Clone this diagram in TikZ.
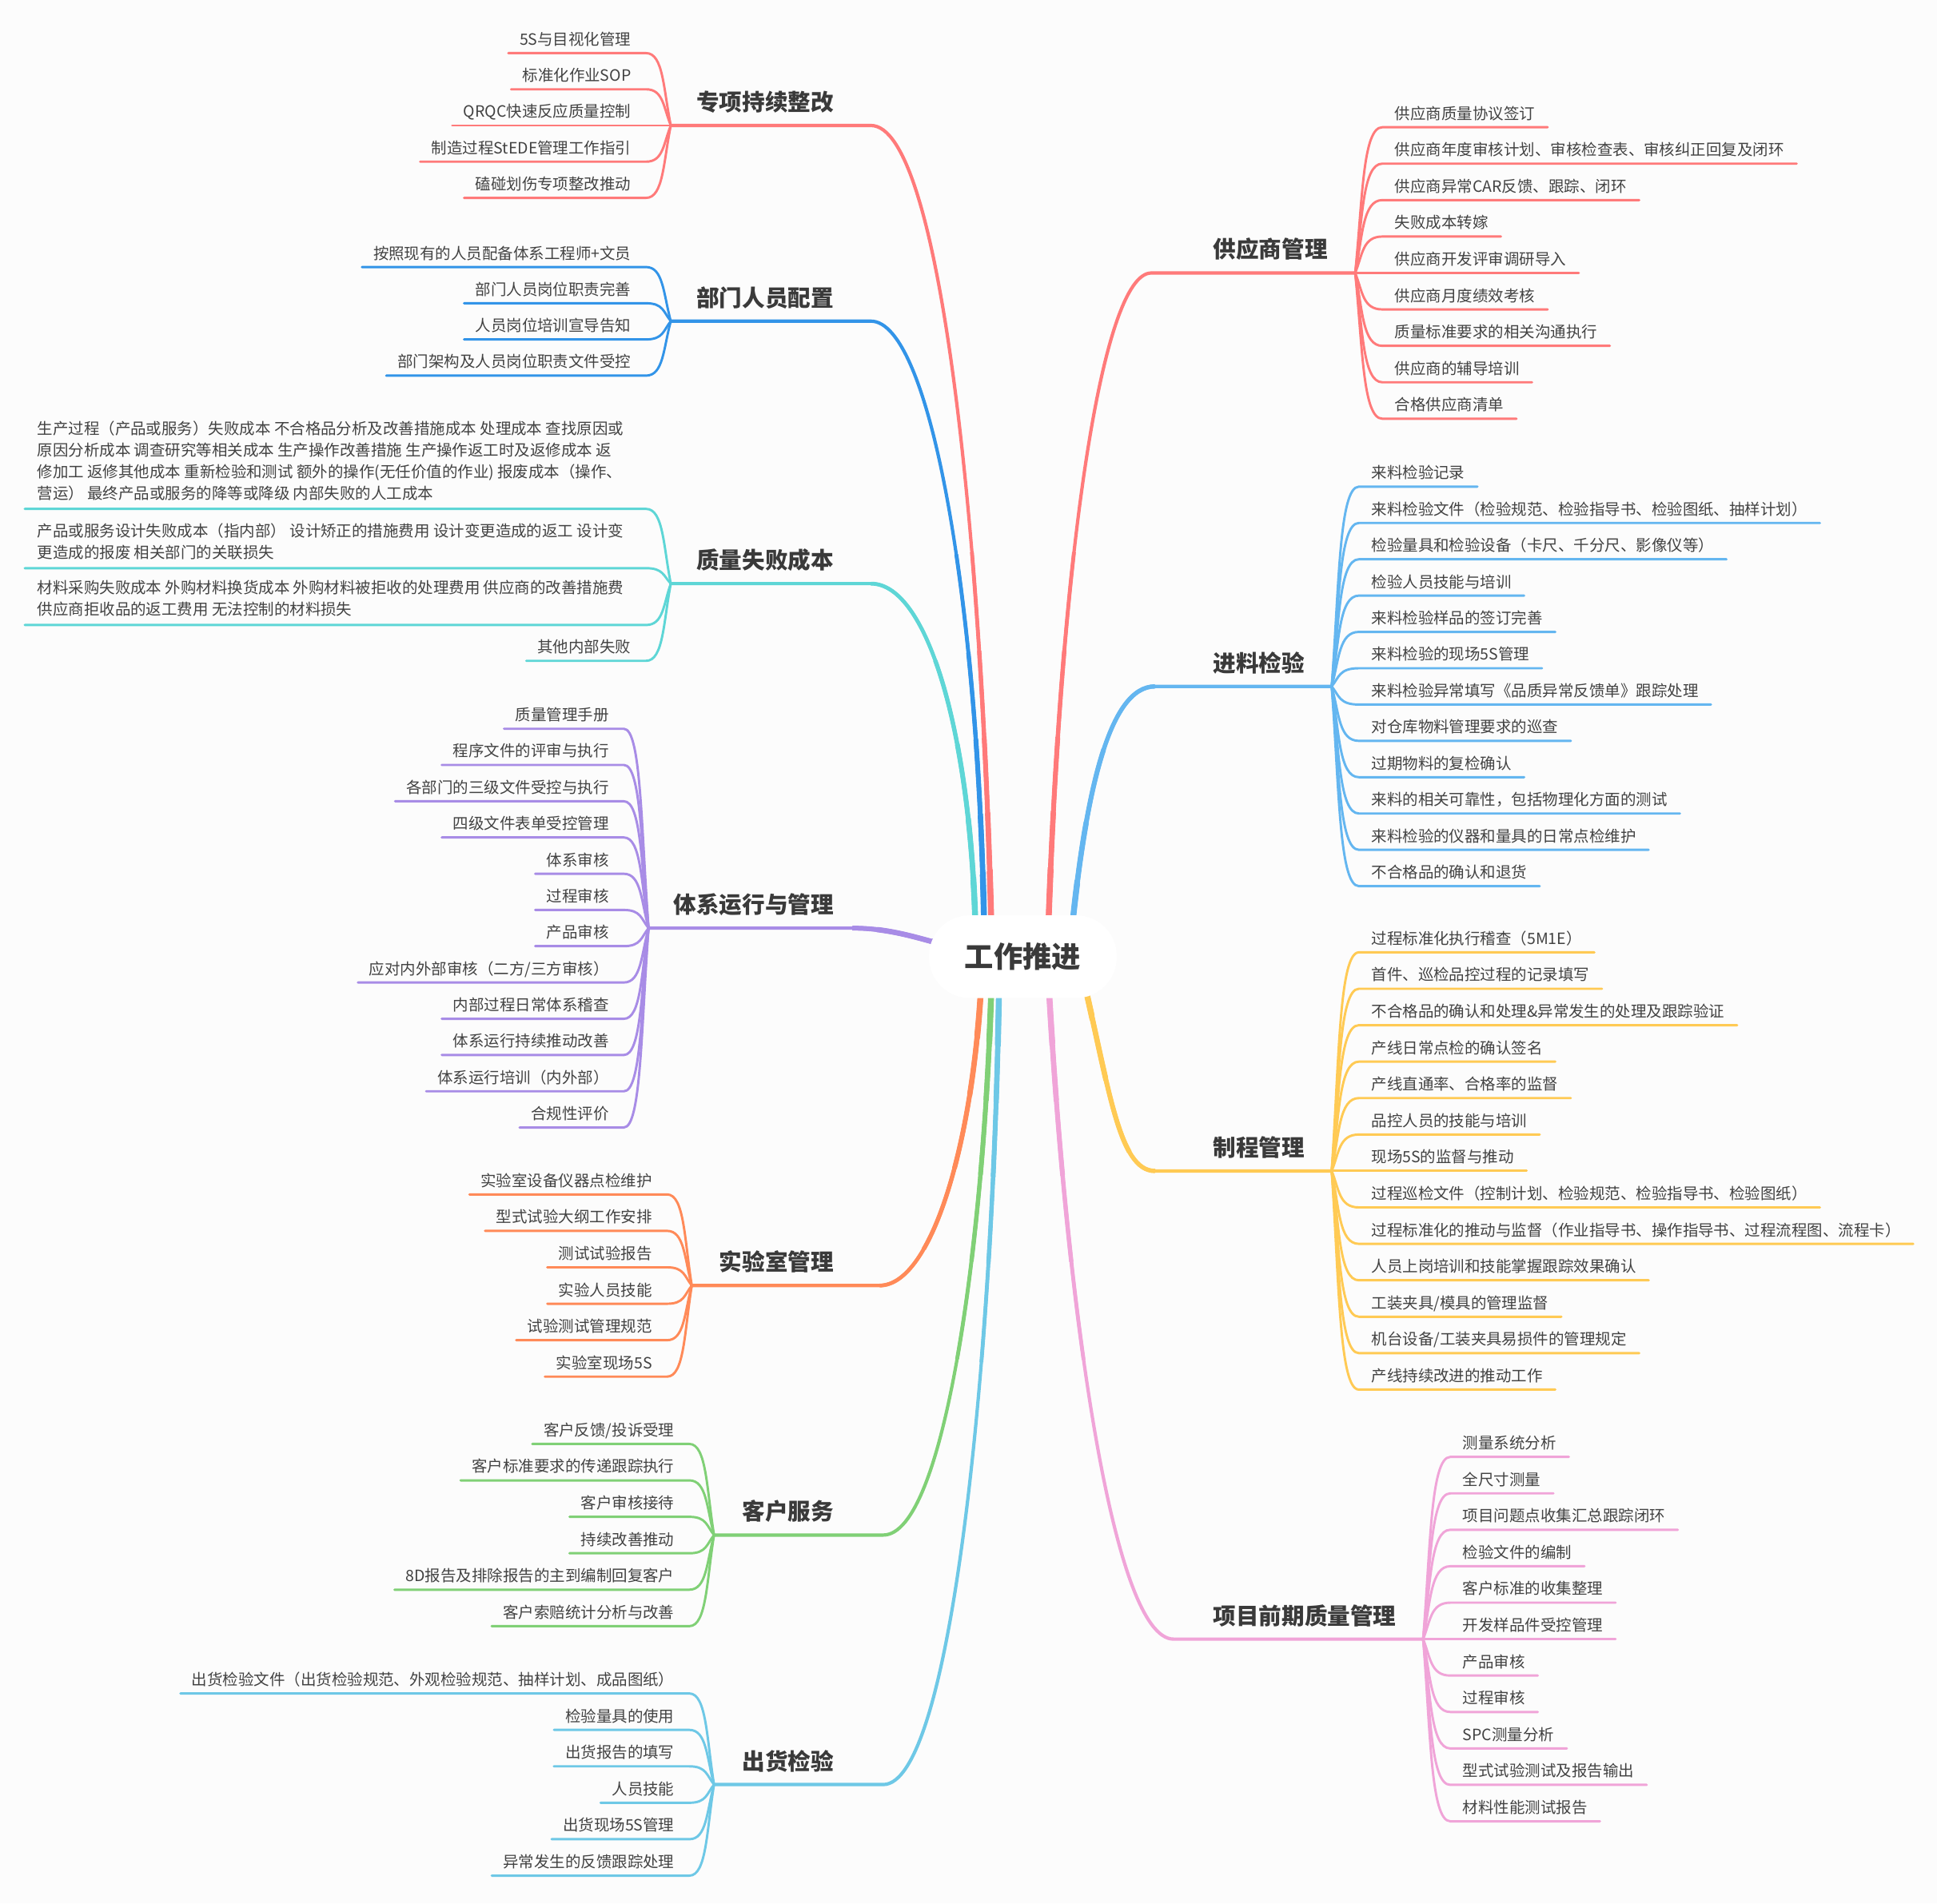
\documentclass[tikz,border=0pt]{standalone}
\usepackage{fontspec}
\setmainfont{Noto Sans CJK SC}
\usetikzlibrary{calc}
\definecolor{bgc}{RGB}{252,252,252}
\definecolor{txt}{RGB}{66,66,66}
\definecolor{ttl}{RGB}{58,58,58}
\definecolor{cRed}{RGB}{255,122,122}
\definecolor{cBlue}{RGB}{50,148,232}
\definecolor{cTeal}{RGB}{94,214,214}
\definecolor{cPurple}{RGB}{168,140,230}
\definecolor{cOrange}{RGB}{255,138,88}
\definecolor{cGreen}{RGB}{128,208,118}
\definecolor{cSky}{RGB}{110,200,230}
\definecolor{cAzure}{RGB}{100,182,240}
\definecolor{cYellow}{RGB}{255,202,84}
\definecolor{cPink}{RGB}{240,164,216}
\pgfdeclarelayer{bg}
\pgfdeclarelayer{lines}
\pgfsetlayers{bg,lines,main}
\tikzset{
  leaf/.style={inner sep=0pt, text=txt, font=\fontsize{12.6}{15}\selectfont},
  leafm/.style={inner sep=0pt, text=txt, align=left, font=\fontsize{12.6}{17.4}\selectfont},
  btitle/.style={inner sep=0pt, text=ttl, font=\fontsize{18.5}{22}\selectfont\bfseries},
  rootnode/.style={rectangle, rounded corners=33pt, minimum width=152pt, minimum height=67pt, fill=white, inner sep=0pt, text=ttl, font=\fontsize{23.5}{28}\selectfont\bfseries},
  lk/.style={draw=#1, line width=1.9pt, line cap=round},
  mk/.style={draw=#1, line width=2.7pt, line cap=round},
}
% right-side leaf: name, fork, fork x, underline y, colour, text
\newcommand\leafR[6]{%
  \coordinate (#1a) at (#3+22,#4);
  \node[leaf,anchor=base west] (#1) at (#3+32,#4-6.5) {#6};
  \begin{pgfonlayer}{lines}
  \draw[lk=#5] (#2) .. controls ($(#2)!.5!(#2|-#1a)+(6,0)$) and ($(#2|-#1a)+(6,0)$) .. (#1a) -- ($(#1a-|#1.east)+(10,0)$);
  \end{pgfonlayer}}
% left-side leaf
\newcommand\leafL[6]{%
  \coordinate (#1a) at (#3-20,#4);
  \node[leaf,anchor=base east] (#1) at (#3-32,#4-6.5) {#6};
  \begin{pgfonlayer}{lines}
  \draw[lk=#5] (#2) .. controls ($(#2)!.5!(#2|-#1a)+(-6,0)$) and ($(#2|-#1a)+(-6,0)$) .. (#1a) -- ($(#1a-|#1.west)+(-9,0)$);
  \end{pgfonlayer}}
% tapered piece of a main branch: colour, width, radius, start, c1, c2, end
\newcommand\taper[7]{%
  \begin{scope}\clip (root.center) circle (#3);
  \draw[draw=#1, line width=#2] (#4) .. controls (#5) and (#6) .. (#7);\end{scope}}
% main branch: colour, start, c1, c2, curve end, fork
\newcommand\mainbr[6]{%
  \begin{pgfonlayer}{lines}
  \draw[mk=#1] (#2) .. controls (#3) and (#4) .. (#5) -- (#6);
  \taper{#1}{3.1pt}{330}{#2}{#3}{#4}{#5}
  \taper{#1}{3.5pt}{250}{#2}{#3}{#4}{#5}
  \taper{#1}{3.9pt}{180}{#2}{#3}{#4}{#5}
  \taper{#1}{4.3pt}{120}{#2}{#3}{#4}{#5}
  \taper{#1}{4.8pt}{75}{#2}{#3}{#4}{#5}
  \end{pgfonlayer}}
\begin{document}
\begin{tikzpicture}[x=1pt,y=-1pt]
\begin{pgfonlayer}{bg}\fill[bgc] (0,0) rectangle (1568,1541);\end{pgfonlayer}
\useasboundingbox (0,0) rectangle (1568,1541);
\node[rootnode] (root) at (828,774.5) {工作推进};
\coordinate (rA) at (803,770);
\coordinate (rB) at (797,770);
\coordinate (rC) at (790,770);
\coordinate (rD) at (790,772);
\coordinate (rE) at (795,780);
\coordinate (rF) at (803,780);
\coordinate (rG) at (809,780);
\coordinate (rH) at (848,770);
\coordinate (rI) at (866,770);
\coordinate (rJ) at (874,780);
\coordinate (rK) at (848,780);
% ---------- 专项持续整改
\coordinate (aA) at (705,101.6); \coordinate (aF) at (543,101.6);
\mainbr{cRed}{rA}{795,420}{760,101.6}{aA}{aF}
\node[btitle,anchor=base east] (aT) at (675,89.6) {专项持续整改};
\leafL{a1}{aF}{543}{43}{cRed}{5S与目视化管理}
\leafL{a2}{aF}{543}{72.3}{cRed}{标准化作业SOP}
\leafL{a3}{aF}{543}{101.6}{cRed}{QRQC快速反应质量控制}
\leafL{a4}{aF}{543}{130.9}{cRed}{制造过程StEDE管理工作指引}
\leafL{a5}{aF}{543}{160.2}{cRed}{磕碰划伤专项整改推动}
% ---------- 部门人员配置
\coordinate (bA) at (705,260); \coordinate (bF) at (543,260);
\mainbr{cBlue}{rB}{793,480}{752,260}{bA}{bF}
\node[btitle,anchor=base east] (bT) at (675,248) {部门人员配置};
\leafL{b1}{bF}{543}{216.2}{cBlue}{按照现有的人员配备体系工程师+文员}
\leafL{b2}{bF}{543}{245.5}{cBlue}{部门人员岗位职责完善}
\leafL{b3}{bF}{543}{274.8}{cBlue}{人员岗位培训宣导告知}
\leafL{b4}{bF}{543}{304.1}{cBlue}{部门架构及人员岗位职责文件受控}
% ---------- 质量失败成本
\coordinate (cA) at (705,472.5); \coordinate (cF) at (543,472.5);
\mainbr{cTeal}{rC}{788,600}{752,472.5}{cA}{cF}
\node[btitle,anchor=base east] (cT) at (675,460.5) {质量失败成本};
\coordinate (c1a) at (523,412);
\node[leafm,anchor=base west] (c1) at (30,404) {生产过程（产品或服务）失败成本 不合格品分析及改善措施成本 处理成本 查找原因或\\原因分析成本 调查研究等相关成本 生产操作改善措施 生产操作返工时及返修成本 返\\修加工 返修其他成本 重新检验和测试 额外的操作(无任价值的作业) 报废成本（操作、\\营运） 最终产品或服务的降等或降级 内部失败的人工成本};
\coordinate (c2a) at (523,460);
\node[leafm,anchor=base west] (c2) at (30,452) {产品或服务设计失败成本（指内部） 设计矫正的措施费用 设计变更造成的返工 设计变\\更造成的报废 相关部门的关联损失};
\coordinate (c3a) at (523,506);
\node[leafm,anchor=base west] (c3) at (30,498) {材料采购失败成本 外购材料换货成本 外购材料被拒收的处理费用 供应商的改善措施费\\供应商拒收品的返工费用 无法控制的材料损失};
\begin{pgfonlayer}{lines}
\draw[lk=cTeal] (cF) .. controls ($(cF)!.5!(cF|-c1a)+(-6,0)$) and ($(cF|-c1a)+(-6,0)$) .. (c1a) -- ($(c1a-|c1.west)+(-10,0)$);
\draw[lk=cTeal] (cF) .. controls ($(cF)!.5!(cF|-c2a)+(-6,0)$) and ($(cF|-c2a)+(-6,0)$) .. (c2a) -- ($(c2a-|c2.west)+(-10,0)$);
\draw[lk=cTeal] (cF) .. controls ($(cF)!.5!(cF|-c3a)+(-6,0)$) and ($(cF|-c3a)+(-6,0)$) .. (c3a) -- ($(c3a-|c3.west)+(-10,0)$);
\end{pgfonlayer}
\leafL{c4}{cF}{543}{535}{cTeal}{其他内部失败}
% ---------- 体系运行与管理
\coordinate (dA) at (690,751.4); \coordinate (dF) at (525,751.4);
\mainbr{cPurple}{rD}{750,762}{725,751.4}{dA}{dF}
\node[btitle,anchor=base east] (dT) at (675,739.4) {体系运行与管理};
\leafL{d1}{dF}{525}{590}{cPurple}{质量管理手册}
\leafL{d2}{dF}{525}{619.3}{cPurple}{程序文件的评审与执行}
\leafL{d3}{dF}{525}{648.7}{cPurple}{各部门的三级文件受控与执行}
\leafL{d4}{dF}{525}{678}{cPurple}{四级文件表单受控管理}
\leafL{d5}{dF}{525}{707.4}{cPurple}{体系审核}
\leafL{d6}{dF}{525}{736.7}{cPurple}{过程审核}
\leafL{d7}{dF}{525}{766}{cPurple}{产品审核}
\leafL{d8}{dF}{525}{795.4}{cPurple}{应对内外部审核（二方/三方审核）}
\leafL{d9}{dF}{525}{824.8}{cPurple}{内部过程日常体系稽查}
\leafL{d10}{dF}{525}{854.1}{cPurple}{体系运行持续推动改善}
\leafL{d11}{dF}{525}{883.5}{cPurple}{体系运行培训（内外部）}
\leafL{d12}{dF}{525}{912.8}{cPurple}{合规性评价}
% ---------- 实验室管理
\coordinate (eA) at (712,1040.75); \coordinate (eF) at (560,1040.75);
\mainbr{cOrange}{rE}{790,920}{755,1040.75}{eA}{eF}
\node[btitle,anchor=base east] (eT) at (675,1028.75) {实验室管理};
\leafL{e1}{eF}{560}{967}{cOrange}{实验室设备仪器点检维护}
\leafL{e2}{eF}{560}{996.5}{cOrange}{型式试验大纲工作安排}
\leafL{e3}{eF}{560}{1026}{cOrange}{测试试验报告}
\leafL{e4}{eF}{560}{1055.5}{cOrange}{实验人员技能}
\leafL{e5}{eF}{560}{1085}{cOrange}{试验测试管理规范}
\leafL{e6}{eF}{560}{1114.5}{cOrange}{实验室现场5S}
% ---------- 客户服务
\coordinate (fA) at (715,1242.75); \coordinate (fF) at (578,1242.75);
\mainbr{cGreen}{rF}{798,1000}{765,1242.75}{fA}{fF}
\node[btitle,anchor=base east] (fT) at (675,1230.75) {客户服务};
\leafL{f1}{fF}{578}{1169}{cGreen}{客户反馈/投诉受理}
\leafL{f2}{fF}{578}{1198.5}{cGreen}{客户标准要求的传递跟踪执行}
\leafL{f3}{fF}{578}{1228}{cGreen}{客户审核接待}
\leafL{f4}{fF}{578}{1257.5}{cGreen}{持续改善推动}
\leafL{f5}{fF}{578}{1287}{cGreen}{8D报告及排除报告的主到编制回复客户}
\leafL{f6}{fF}{578}{1316.5}{cGreen}{客户索赔统计分析与改善}
% ---------- 出货检验
\coordinate (gA) at (715,1444.75); \coordinate (gF) at (578,1444.75);
\mainbr{cSky}{rG}{805,1100}{770,1444.75}{gA}{gF}
\node[btitle,anchor=base east] (gT) at (675,1432.75) {出货检验};
\leafL{g1}{gF}{578}{1371}{cSky}{出货检验文件（出货检验规范、外观检验规范、抽样计划、成品图纸）}
\leafL{g2}{gF}{578}{1400.5}{cSky}{检验量具的使用}
\leafL{g3}{gF}{578}{1430}{cSky}{出货报告的填写}
\leafL{g4}{gF}{578}{1459.5}{cSky}{人员技能}
\leafL{g5}{gF}{578}{1489}{cSky}{出货现场5S管理}
\leafL{g6}{gF}{578}{1518.5}{cSky}{异常发生的反馈跟踪处理}
% ---------- 供应商管理
\coordinate (hA) at (932,221); \coordinate (hF) at (1097,221);
\mainbr{cRed}{rH}{858,450}{892,221}{hA}{hF}
\node[btitle,anchor=base west] (hT) at (982,209) {供应商管理};
\leafR{h1}{hF}{1097}{103}{cRed}{供应商质量协议签订}
\leafR{h2}{hF}{1097}{132.5}{cRed}{供应商年度审核计划、审核检查表、审核纠正回复及闭环}
\leafR{h3}{hF}{1097}{162}{cRed}{供应商异常CAR反馈、跟踪、闭环}
\leafR{h4}{hF}{1097}{191.5}{cRed}{失败成本转嫁}
\leafR{h5}{hF}{1097}{221}{cRed}{供应商开发评审调研导入}
\leafR{h6}{hF}{1097}{250.5}{cRed}{供应商月度绩效考核}
\leafR{h7}{hF}{1097}{280}{cRed}{质量标准要求的相关沟通执行}
\leafR{h8}{hF}{1097}{309.5}{cRed}{供应商的辅导培训}
\leafR{h9}{hF}{1097}{339}{cRed}{合格供应商清单}
% ---------- 进料检验
\coordinate (iA) at (935,555.7); \coordinate (iF) at (1078,555.7);
\mainbr{cAzure}{rI}{878,640}{898,555.7}{iA}{iF}
\node[btitle,anchor=base west] (iT) at (982,543.7) {进料检验};
\leafR{i1}{iF}{1078}{394}{cAzure}{来料检验记录}
\leafR{i2}{iF}{1078}{423.4}{cAzure}{来料检验文件（检验规范、检验指导书、检验图纸、抽样计划）}
\leafR{i3}{iF}{1078}{452.8}{cAzure}{检验量具和检验设备（卡尺、千分尺、影像仪等）}
\leafR{i4}{iF}{1078}{482.2}{cAzure}{检验人员技能与培训}
\leafR{i5}{iF}{1078}{511.6}{cAzure}{来料检验样品的签订完善}
\leafR{i6}{iF}{1078}{541}{cAzure}{来料检验的现场5S管理}
\leafR{i7}{iF}{1078}{570.4}{cAzure}{来料检验异常填写《品质异常反馈单》跟踪处理}
\leafR{i8}{iF}{1078}{599.8}{cAzure}{对仓库物料管理要求的巡查}
\leafR{i9}{iF}{1078}{629.2}{cAzure}{过期物料的复检确认}
\leafR{i10}{iF}{1078}{658.6}{cAzure}{来料的相关可靠性，包括物理化方面的测试}
\leafR{i11}{iF}{1078}{688}{cAzure}{来料检验的仪器和量具的日常点检维护}
\leafR{i12}{iF}{1078}{717.4}{cAzure}{不合格品的确认和退货}
% ---------- 制程管理
\coordinate (jA) at (935,948); \coordinate (jF) at (1078,948);
\mainbr{cYellow}{rJ}{898,880}{905,948}{jA}{jF}
\node[btitle,anchor=base west] (jT) at (982,936) {制程管理};
\leafR{j1}{jF}{1078}{771}{cYellow}{过程标准化执行稽查（5M1E）}
\leafR{j2}{jF}{1078}{800.5}{cYellow}{首件、巡检品控过程的记录填写}
\leafR{j3}{jF}{1078}{830}{cYellow}{不合格品的确认和处理\&异常发生的处理及跟踪验证}
\leafR{j4}{jF}{1078}{859.5}{cYellow}{产线日常点检的确认签名}
\leafR{j5}{jF}{1078}{889}{cYellow}{产线直通率、合格率的监督}
\leafR{j6}{jF}{1078}{918.5}{cYellow}{品控人员的技能与培训}
\leafR{j7}{jF}{1078}{948}{cYellow}{现场5S的监督与推动}
\leafR{j8}{jF}{1078}{977.5}{cYellow}{过程巡检文件（控制计划、检验规范、检验指导书、检验图纸）}
\leafR{j9}{jF}{1078}{1007}{cYellow}{过程标准化的推动与监督（作业指导书、操作指导书、过程流程图、流程卡）}
\leafR{j10}{jF}{1078}{1036.5}{cYellow}{人员上岗培训和技能掌握跟踪效果确认}
\leafR{j11}{jF}{1078}{1066}{cYellow}{工装夹具/模具的管理监督}
\leafR{j12}{jF}{1078}{1095.5}{cYellow}{机台设备/工装夹具易损件的管理规定}
\leafR{j13}{jF}{1078}{1125}{cYellow}{产线持续改进的推动工作}
% ---------- 项目前期质量管理
\coordinate (kA) at (950,1327); \coordinate (kF) at (1152,1327);
\mainbr{cPink}{rK}{862,1050}{900,1327}{kA}{kF}
\node[btitle,anchor=base west] (kT) at (982,1315) {项目前期质量管理};
\leafR{k1}{kF}{1152}{1179.5}{cPink}{测量系统分析}
\leafR{k2}{kF}{1152}{1209}{cPink}{全尺寸测量}
\leafR{k3}{kF}{1152}{1238.5}{cPink}{项目问题点收集汇总跟踪闭环}
\leafR{k4}{kF}{1152}{1268}{cPink}{检验文件的编制}
\leafR{k5}{kF}{1152}{1297.5}{cPink}{客户标准的收集整理}
\leafR{k6}{kF}{1152}{1327}{cPink}{开发样品件受控管理}
\leafR{k7}{kF}{1152}{1356.5}{cPink}{产品审核}
\leafR{k8}{kF}{1152}{1386}{cPink}{过程审核}
\leafR{k9}{kF}{1152}{1415.5}{cPink}{SPC测量分析}
\leafR{k10}{kF}{1152}{1445}{cPink}{型式试验测试及报告输出}
\leafR{k11}{kF}{1152}{1474.5}{cPink}{材料性能测试报告}
\end{tikzpicture}
\end{document}
